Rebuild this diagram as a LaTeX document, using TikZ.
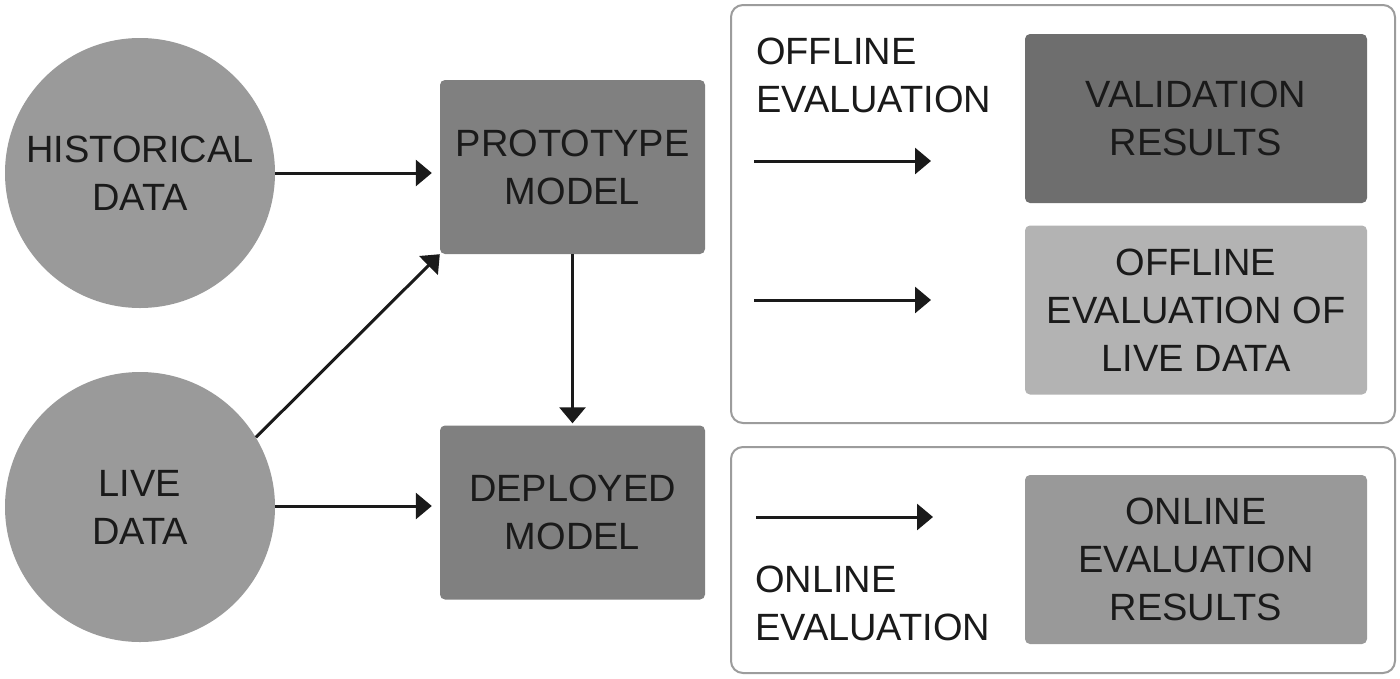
\documentclass[tikz,border=0pt]{standalone}
\usepackage{fontspec}
\setmainfont{Liberation Sans}
\usetikzlibrary{arrows.meta}
\definecolor{circfill}{HTML}{9A9A9A}
\definecolor{modelfill}{HTML}{808080}
\definecolor{valfill}{HTML}{6E6E6E}
\definecolor{livefill}{HTML}{B3B3B3}
\definecolor{onlinefill}{HTML}{999999}
\definecolor{framecol}{HTML}{9C9C9C}
\definecolor{ink}{HTML}{1A1A1A}
\tikzset{
  lbl/.style={font=\fontsize{38}{48}\selectfont, text=ink, align=center, inner sep=0pt},
  datacirc/.style={lbl, circle, fill=circfill, minimum size=270pt},
  modelbox/.style={lbl, rectangle, rounded corners=5pt, minimum width=265pt, minimum height=174pt},
  resbox/.style={lbl, rectangle, rounded corners=5pt, minimum width=342pt, minimum height=169pt},
  frame/.style={draw=framecol, line width=2pt, rounded corners=12pt},
  arr/.style={draw=ink, line width=3pt, -{Triangle[length=16pt,width=26pt]}},
}
\begin{document}
\begin{tikzpicture}[x=1pt,y=-1pt]
\useasboundingbox (0,0) rectangle (1400,678);
\fill[white] (0,0) rectangle (1400,678);

% frames
\draw[frame] (731,5) rectangle (1395,423);
\draw[frame] (731,447) rectangle (1395,673);

% circles
\node[datacirc] (hist) at (140,173) {HISTORICAL\\DATA};
\node[datacirc] (live) at (140,507) {LIVE\\DATA};

% model boxes
\node[modelbox, fill=modelfill] (proto) at (572.5,167) {PROTOTYPE\\MODEL};
\node[modelbox, fill=modelfill] (deploy) at (572.5,512.5) {DEPLOYED\\MODEL};

% result boxes
\node[resbox, fill=valfill] (val) at (1196,118.5) {VALIDATION\\RESULTS};
\node[resbox, fill=livefill] (offlive) at (1196,310) {OFFLINE\\EVALUATION OF\\LIVE DATA};
\node[resbox, fill=onlinefill] (onres) at (1196,559.5) {ONLINE\\EVALUATION\\RESULTS};

% side labels
\node[lbl, align=left, anchor=west] (offlbl) at (756,75) {OFFLINE\\EVALUATION};
\node[lbl, align=left, anchor=west] (onlbl) at (755,603) {ONLINE\\EVALUATION};

% left connectors
\draw[arr, shorten >=8pt] (hist.east) -- (hist.east -| proto.west);
\draw[arr, shorten >=8pt] (live.east |- 0,506) -- (deploy.west |- 0,506);
\draw[arr] (live.31) -- (proto.south west);
\draw[arr, shorten >=2pt] (proto.south) -- (deploy.north);

% right connectors
\coordinate (a1s) at (754,161); \coordinate (a1e) at (931,161);
\coordinate (a2s) at (754,300); \coordinate (a2e) at (931,300);
\coordinate (a3s) at (756,517); \coordinate (a3e) at (933,517);
\draw[arr] (a1s) -- (a1e);
\draw[arr] (a2s) -- (a2e);
\draw[arr] (a3s) -- (a3e);
\end{tikzpicture}
\end{document}
